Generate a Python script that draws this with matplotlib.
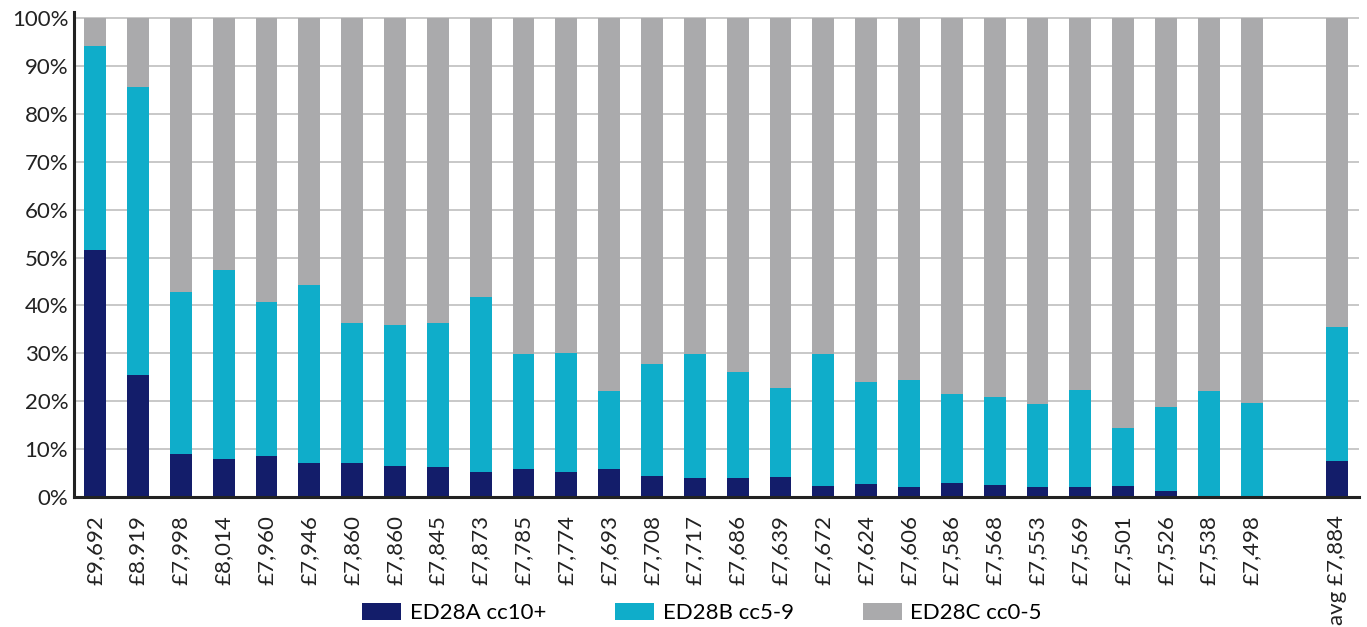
import matplotlib
matplotlib.use("Agg")
import matplotlib.pyplot as plt
from matplotlib.patches import Patch
import numpy as np

plt.rcParams['font.family'] = ['Lato', 'DejaVu Sans']

# Average cost per bar (category labels), plus the overall average
labels = ["£9,692", "£8.919", "£7,998", "£8,014", "£7,960", "£7,946", "£7,860",
          "£7,860", "£7,845", "£7,873", "£7,785", "£7,774", "£7,693", "£7,708",
          "£7,717", "£7,686", "£7,639", "£7,672", "£7,624", "£7,606", "£7,586",
          "£7,568", "£7,553", "£7,569", "£7,501", "£7,526", "£7,538", "£7,498"]
avg_label = "avg £7,884"

# Share of spells (%) in each complexity band
ed28a = [51.6, 25.5, 9.0, 7.9, 8.6, 7.1, 7.1, 6.5, 6.3, 5.2, 5.9, 5.2, 5.9, 4.4,
         4.0, 4.0, 4.2, 2.3, 2.7, 2.1, 2.9, 2.5, 2.1, 2.1, 2.3, 1.3, 0.0, 0.0]
ed28b = [42.6, 60.1, 33.8, 39.5, 32.1, 37.2, 29.2, 29.4, 30.0, 36.6, 24.0, 24.9,
         16.2, 23.4, 25.9, 22.1, 18.6, 27.6, 21.3, 22.3, 18.6, 18.4, 17.3, 20.2,
         12.1, 17.5, 22.1, 19.6]
ed28c = [5.8, 14.4, 57.2, 52.6, 59.3, 55.7, 63.7, 64.1, 63.7, 58.2, 70.1, 69.9,
         77.9, 72.2, 70.1, 73.9, 77.2, 70.1, 76.0, 75.6, 78.5, 79.1, 80.6, 77.7,
         85.6, 81.2, 77.9, 80.4]
avg_shares = [7.5, 28.0, 64.5]

series_names = ["ED28A cc10+", "ED28B cc5-9", "ED28C cc0-5"]
colors = ["#131d6a", "#0fadca", "#aaaaac"]

# Positions: one slot per provider, an empty slot, then the average
n = len(labels)
x = list(range(n)) + [n + 1]
tick_labels = labels + [avg_label]
a_vals = np.array(ed28a + [avg_shares[0]])
b_vals = np.array(ed28b + [avg_shares[1]])
c_vals = np.array(ed28c + [avg_shares[2]])

fig = plt.figure(figsize=(13.67, 6.27), dpi=100)
ax = fig.add_axes([0.054, 0.2073, 0.94, 0.7736])

w = 0.51
ax.bar(x, a_vals, w, color=colors[0], linewidth=0, zorder=3)
ax.bar(x, b_vals, w, bottom=a_vals, color=colors[1], linewidth=0, zorder=3)
ax.bar(x, c_vals, w, bottom=a_vals + b_vals, color=colors[2], linewidth=0, zorder=3)

ax.set_xlim(-0.5, n + 1.5)
ax.set_ylim(0, 101.3)
ax.set_yticks(np.arange(0, 101, 10))
ax.set_yticklabels([f"{v}%" for v in range(0, 101, 10)], fontsize=16, color="#222222")
ax.set_xticks(x)
ax.set_xticklabels(tick_labels, rotation=90, fontsize=16, color="#222222")
ax.tick_params(axis="both", length=0, pad=4)
ax.tick_params(axis="x", pad=13)

ax.grid(axis="y", color="#c4c4c4", linewidth=1.3, zorder=0)
ax.set_axisbelow(True)
for side in ("top", "right"):
    ax.spines[side].set_visible(False)
for side in ("left", "bottom"):
    ax.spines[side].set_color("#222222")
    ax.spines[side].set_linewidth(2.2)
    ax.spines[side].set_zorder(5)

handles = [Patch(facecolor=c, edgecolor="none") for c in colors]
fig.legend(handles, series_names, loc="center", bbox_to_anchor=(0.5135, 0.022),
           ncol=3, frameon=False, fontsize=16, handlelength=1.75, handleheight=0.8,
           columnspacing=3.1, handletextpad=0.4)

fig.savefig("out.png", dpi=100)
